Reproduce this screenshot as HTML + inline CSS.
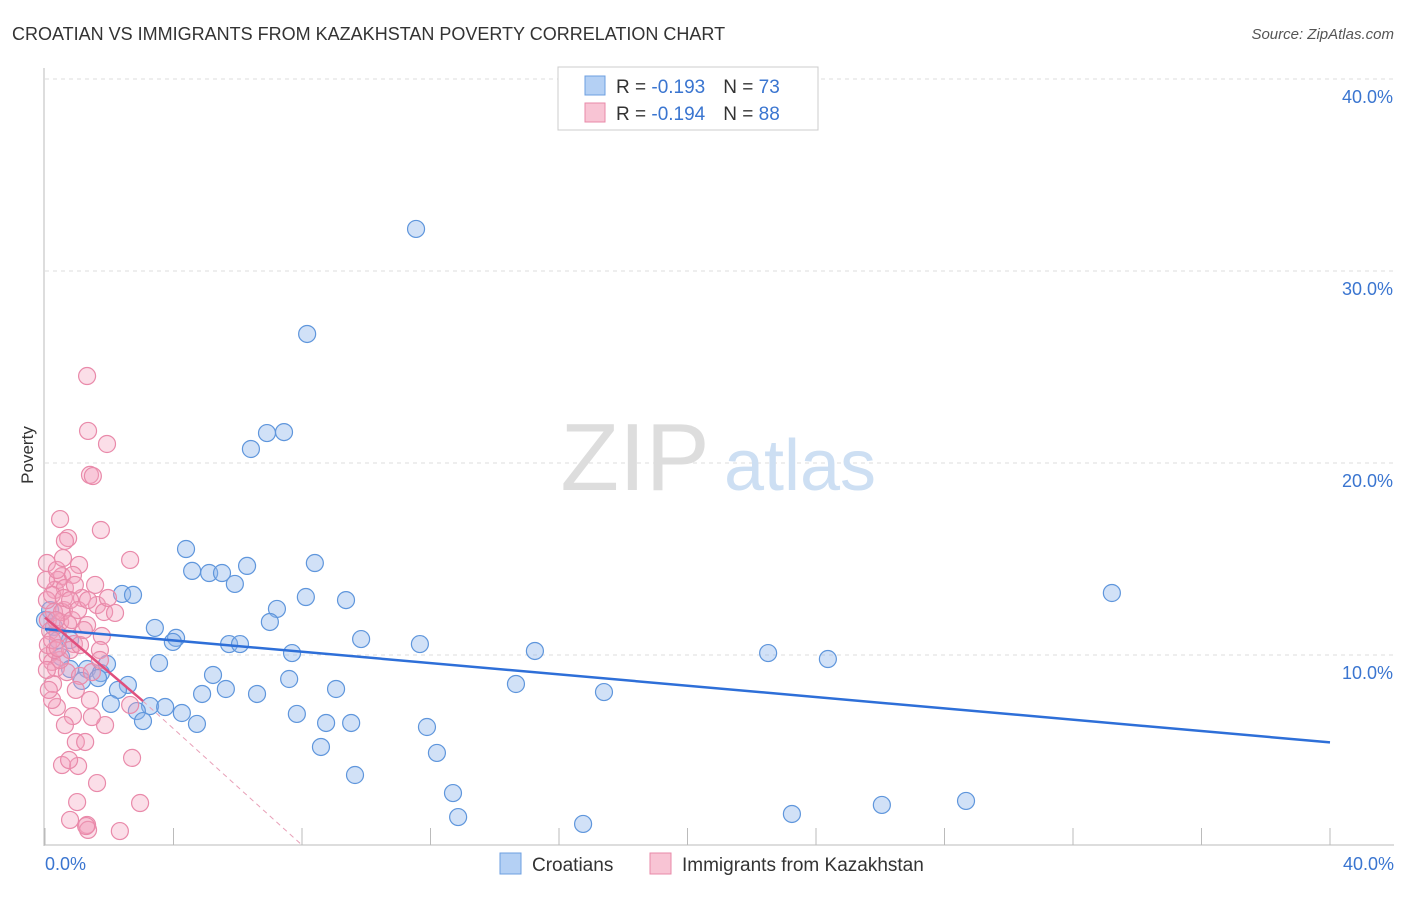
<!DOCTYPE html>
<html><head><meta charset="utf-8"><style>
body{margin:0;background:#fff;font-family:"Liberation Sans",sans-serif;}
svg text{font-family:"Liberation Sans",sans-serif;}
</style></head><body>
<svg width="1406" height="892" viewBox="0 0 1406 892">
<text x="12" y="40" font-size="18" fill="#333">CROATIAN VS IMMIGRANTS FROM KAZAKHSTAN POVERTY CORRELATION CHART</text>
<text x="1394" y="39" font-size="15" fill="#555" font-style="italic" text-anchor="end">Source: ZipAtlas.com</text>
<g id="grid"></g>
<g>
<text x="635" y="490" font-size="96" fill="#ddd" font-family="Liberation Serif" text-anchor="middle">ZIP</text>
<text x="800" y="490" font-size="72" fill="#cddff3" text-anchor="middle">atlas</text>
</g>
<line x1="44" y1="68" x2="44" y2="846" stroke="#bbb"/>
<line x1="44" y1="845" x2="1394" y2="845" stroke="#bbb"/>
<text transform="translate(33,455) rotate(-90)" font-size="17" fill="#333" text-anchor="middle">Poverty</text>
<text x="45" y="870" font-size="18" fill="#3a75d0">0.0%</text>
<text x="1394" y="870" font-size="18" fill="#3a75d0" text-anchor="end">40.0%</text>
<g id="pts"></g>
<g id="lines"></g>
<g>
<rect x="558" y="67" width="260" height="63" fill="#fff" stroke="#ccc"/>
<rect x="585" y="76" width="20" height="19" fill="#b4d0f4" stroke="#6d9fe0"/>
<rect x="585" y="103" width="20" height="19" fill="#f8c4d4" stroke="#e88aa8"/>
<text x="616" y="93" font-size="19" fill="#333">R = <tspan fill="#3a75d0">-0.193</tspan><tspan dx="18">N = </tspan><tspan fill="#3a75d0">73</tspan></text>
<text x="616" y="120" font-size="19" fill="#333">R = <tspan fill="#3a75d0">-0.194</tspan><tspan dx="18">N = </tspan><tspan fill="#3a75d0">88</tspan></text>
</g>
<g>
<rect x="500" y="853" width="21" height="21" fill="#b4d0f4" stroke="#6d9fe0"/>
<text x="532" y="871" font-size="19" fill="#333">Croatians</text>
<rect x="650" y="853" width="21" height="21" fill="#f8c4d4" stroke="#e88aa8"/>
<text x="682" y="871" font-size="19" fill="#333">Immigrants from Kazakhstan</text>
</g>
</svg>
<script>
const yTicks=[10,20,30,40];
const xTicks=[0,4,8,12,16,20,24,28,32,36,40];
const bluePx=[[416,229],[307,334],[267,433],[284,432],[251,449],[186,549],[192,571],[209,573],[222,573],[247,566],[235,584],[315,563],[122,594],[133,595],[306,597],[346,600],[277,609],[270,622],[155,628],[176,638],[173,642],[229,644],[240,644],[361,639],[420,644],[535,651],[292,653],[768,653],[828,659],[1112,593],[61,657],[107,664],[70,669],[87,669],[101,673],[82,681],[98,678],[159,663],[213,675],[289,679],[128,685],[118,690],[226,689],[202,694],[257,694],[336,689],[516,684],[604,692],[111,704],[150,706],[165,707],[137,711],[182,713],[143,721],[197,724],[297,714],[326,723],[351,723],[427,727],[321,747],[437,753],[355,775],[453,793],[458,817],[583,824],[792,814],[882,805],[966,801],[54,627],[50,610],[58,640],[45,620],[70,640]];
const pinkPx=[[87,376],[88,431],[107,444],[90,475],[93,476],[60,519],[101,530],[68,538],[65,541],[47,563],[130,560],[79,565],[62,576],[58,580],[73,575],[55,590],[65,588],[82,598],[97,605],[64,610],[54,612],[104,612],[115,613],[48,620],[60,622],[68,624],[50,631],[87,625],[102,636],[58,634],[74,644],[100,650],[48,656],[52,662],[56,668],[67,672],[80,676],[53,684],[90,700],[130,705],[57,707],[73,716],[105,725],[65,725],[92,717],[76,742],[85,742],[78,766],[132,758],[62,765],[69,760],[97,783],[77,802],[140,803],[70,820],[87,825],[88,830],[86,826],[120,831],[47,600],[52,595],[46,580],[60,660],[48,645],[55,650],[70,650],[62,612],[72,620],[80,645],[92,672],[100,660],[52,700],[47,670],[49,690],[57,570],[63,558],[75,585],[84,630],[95,585],[108,598],[52,640],[64,598],[70,600],[56,620],[78,610],[58,648],[88,600],[76,690]];
// convert to data values (%)
const blueX=bluePx.map(p=>+((p[0]-45)/32.125).toFixed(2));
const blueY=bluePx.map(p=>+((847-p[1])/19.2).toFixed(2));
const pinkX=pinkPx.map(p=>+((p[0]-45)/32.125).toFixed(2));
const pinkY=pinkPx.map(p=>+((847-p[1])/19.2).toFixed(2));
const blueTrend=[11.35,5.45];
const pinkTrend=[11.95,7.6,0.1];
const X=v=>45+v*32.125, Y=v=>847-v*19.2;
const NS='http://www.w3.org/2000/svg';
function mk(t,a,parent){const e=document.createElementNS(NS,t);for(const k in a)e.setAttribute(k,a[k]);document.getElementById(parent).appendChild(e);return e;}
yTicks.forEach(t=>{
 const l=mk('line',{x1:45,x2:1394,y1:Y(t),y2:Y(t),stroke:'#ddd','stroke-dasharray':'4,4'},'grid');
 
 
 const tx=mk('text',{x:1393,y:Y(t)+24,'font-size':18,fill:'#3a75d0','text-anchor':'end'},'grid');
 tx.textContent=t.toFixed(1)+'%';
 
 
});
xTicks.forEach(t=>{
 const l=mk('line',{x1:X(t),x2:X(t),y1:828,y2:845,stroke:'#bbb'},'grid');
 
 
});
blueX.forEach((x,i)=>{
 const c=mk('circle',{cx:X(x),cy:Y(blueY[i]),r:8.5,fill:'rgba(140,180,235,0.4)',stroke:'#5f96dc','stroke-width':1.2},'pts');
 
 
});
pinkX.forEach((x,i)=>{
 const c=mk('circle',{cx:X(x),cy:Y(pinkY[i]),r:8.5,fill:'rgba(244,160,188,0.35)',stroke:'#e98aaa','stroke-width':1.2},'pts');
 
 
});
let l=mk('line',{x1:X(0),y1:Y(blueTrend[0]),x2:X(40),y2:Y(blueTrend[1]),stroke:'#2e6fd8','stroke-width':2.5},'lines');


l=mk('line',{x1:X(0),y1:Y(pinkTrend[0]),x2:X(3.05),y2:Y(pinkTrend[1]),stroke:'#e0507e','stroke-width':2.5},'lines');


l=mk('line',{x1:X(3.05),y1:Y(pinkTrend[1]),x2:X(8),y2:Y(pinkTrend[2]),stroke:'#e8a0b8','stroke-width':1,'stroke-dasharray':'5,4'},'lines');


</script>
</body></html>
